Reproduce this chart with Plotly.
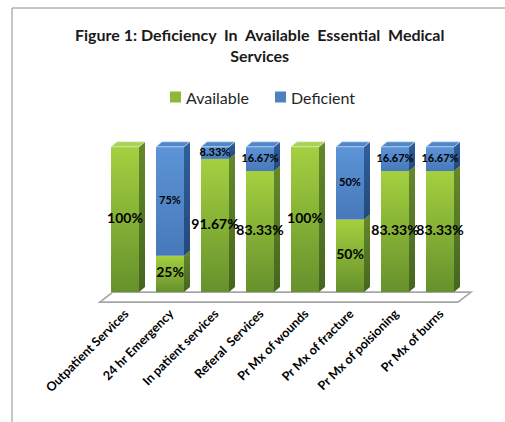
import plotly.graph_objects as go

# ---------------- data ----------------
categories = ["Outpatient Services", "24 hr Emergency", "In patient services",
              "Referal  Services", "Pr Mx of wounds", "Pr Mx of fracture",
              "Pr Mx of poisioning", "Pr Mx of burns"]
available = [100, 25, 91.67, 83.33, 100, 50, 83.33, 83.33]
deficient = [0, 75, 8.33, 16.67, 0, 50, 16.67, 16.67]
series_names = ["Available", "Deficient"]
title_text = "Figure 1: Deficiency  In  Available  Essential  Medical<br>Services"

# ---------------- geometry / style ----------------
W, H = 505, 422
ML, MR, MT, MB = 80, 20, 125, 119
XR = [-1, 8]
YR = [-7.5, 115]
pw, ph = W - ML - MR, H - MT - MB
ppx = pw / (XR[1] - XR[0])
ppy = ph / (YR[1] - YR[0])
half = 14 / ppx          # half bar width
dx = 6 / ppx             # depth offset x
dy = 5 / ppy             # depth offset y

FONT = "Lato"
styles = {
    "Available": dict(front=[[0, "#66912C"], [1, "#A4D040"]],
                      side=[[0, "#45651F"], [1, "#64892B"]],
                      top="#A9D44E", legend="#8DB83A", tsize=14),
    "Deficient": dict(front=[[0, "#4779BA"], [1, "#5C94D7"]],
                      side=[[0, "#24497C"], [1, "#30609C"]],
                      top="#4F87CA", legend="#4F81BD", tsize=11),
}

def px2paper_x(px):
    return (px - ML) / pw

def px2paper_y(py):
    return (H - MB - py) / ph

fig = go.Figure()

# floor
n = len(categories)
fl_l, fl_r = -0.56, n - 1 + 0.40
fdx, fdy = 13 / ppx, 10 / ppy
fy = -10 / ppy
floor_path = (f"M {fl_l},{fy} L {fl_r},{fy} L {fl_r + fdx},{fy + fdy} "
              f"L {fl_l + fdx},{fy + fdy} Z")
fig.add_shape(type="path", path=floor_path, xref="x", yref="y",
              fillcolor="white", line=dict(color="#A6A6A6", width=1.6),
              layer="below")

# bars (3D look)
values = {"Available": available, "Deficient": deficient}
texts_x = {s: [] for s in series_names}
texts_y = {s: [] for s in series_names}
texts_t = {s: [] for s in series_names}
for i in range(n):
    base = 0
    segs = [(s, values[s][i]) for s in series_names if values[s][i] > 0]
    for k, (s, v) in enumerate(segs):
        b, t = base, base + v
        st = styles[s]
        # front face
        fig.add_trace(go.Scatter(
            x=[i - half, i + half, i + half, i - half, i - half],
            y=[b, b, t, t, b], mode="lines", line=dict(width=0),
            fill="toself", fillcolor=st["front"][1][1],
            fillgradient=dict(type="vertical", colorscale=st["front"]),
            hoverinfo="skip", showlegend=False))
        # side face
        fig.add_trace(go.Scatter(
            x=[i + half, i + half + dx, i + half + dx, i + half, i + half],
            y=[b, b + dy, t + dy, t, b], mode="lines", line=dict(width=0),
            fill="toself", fillcolor=st["side"][1][1],
            fillgradient=dict(type="vertical", colorscale=st["side"]),
            hoverinfo="skip", showlegend=False))
        if k == len(segs) - 1:
            fig.add_trace(go.Scatter(
                x=[i - half, i + half, i + half + dx, i - half + dx, i - half],
                y=[t, t, t + dy, t + dy, t], mode="lines",
                line=dict(width=0.6, color="#DDE8F0"),
                fill="toself", fillcolor=st["top"],
                hoverinfo="skip", showlegend=False))
        texts_x[s].append(i)
        texts_y[s].append(b + v / 2)
        texts_t[s].append(f"{v:g}%")
        base = t

for s in series_names:
    fig.add_trace(go.Scatter(
        x=texts_x[s], y=texts_y[s], text=texts_t[s], mode="text",
        textposition="middle center",
        textfont=dict(family=FONT, size=styles[s]["tsize"], color="#000000",
                      weight="bold"),
        hoverinfo="skip", showlegend=False))

# manual legend
leg_y = 97
leg_items = [(series_names[0], 170), (series_names[1], 275)]
for s, lx in leg_items:
    fig.add_shape(type="rect", xref="paper", yref="paper",
                  x0=px2paper_x(lx), x1=px2paper_x(lx + 11),
                  y0=px2paper_y(leg_y + 5.5), y1=px2paper_y(leg_y - 5.5),
                  fillcolor=styles[s]["legend"], line=dict(width=0))
    fig.add_annotation(xref="paper", yref="paper",
                       x=px2paper_x(lx + 14), y=px2paper_y(leg_y),
                       xanchor="left", yanchor="middle", showarrow=False,
                       text=s, font=dict(family=FONT, size=16, color="#262626"))

# title
fig.add_annotation(xref="paper", yref="paper",
                   x=px2paper_x(259), y=px2paper_y(23),
                   xanchor="center", yanchor="top", showarrow=False,
                   text="<b>" + title_text + "</b>", align="center",
                   font=dict(family=FONT, size=16, color="#1A1A1A"))

# outer border
fig.add_shape(type="rect", xref="paper", yref="paper",
              x0=px2paper_x(12), x1=px2paper_x(W + 20),
              y0=px2paper_y(H + 20), y1=px2paper_y(8),
              line=dict(color="#8C8C8C", width=1), fillcolor="rgba(0,0,0,0)")

fig.update_layout(
    width=W, height=H,
    margin=dict(l=ML, r=MR, t=MT, b=MB),
    paper_bgcolor="white", plot_bgcolor="white",
    showlegend=False,
    xaxis=dict(range=XR, tickmode="array", tickvals=list(range(n)),
               ticktext=categories, tickangle=-45, showgrid=False,
               zeroline=False, showline=False, ticks="",
               tickfont=dict(family=FONT, size=12.5, color="#000000", weight="bold")),
    yaxis=dict(range=YR, visible=False, showgrid=False, zeroline=False),
)

fig.write_html("out.html")
